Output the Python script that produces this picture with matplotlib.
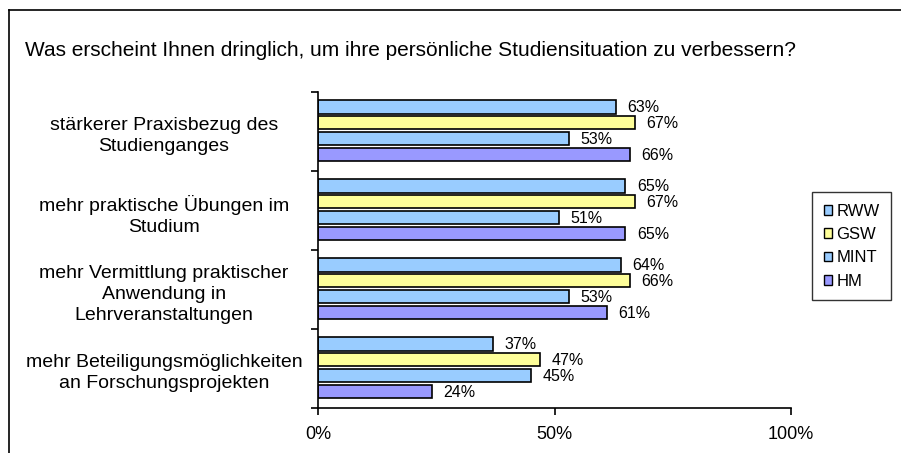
import matplotlib
matplotlib.use('Agg')
from matplotlib import pyplot as plt
from matplotlib.patches import Patch
from matplotlib.transforms import blended_transform_factory
import numpy as np

plt.rcParams['font.family'] = ['Liberation Sans', 'DejaVu Sans']

################################ data ################################
title = 'Was erscheint Ihnen dringlich, um ihre persönliche Studiensituation zu verbessern?'
categories = ['stärkerer Praxisbezug des\nStudienganges',
              'mehr praktische Übungen im\nStudium',
              'mehr Vermittlung praktischer\nAnwendung in\nLehrveranstaltungen',
              'mehr Beteiligungsmöglichkeiten\nan Forschungsprojekten']
series = ['RWW', 'GSW', 'MINT', 'HM']
rww = [63, 65, 64, 37]
gsw = [67, 67, 66, 47]
mint = [53, 51, 53, 45]
hm = [66, 65, 61, 24]
colors = ['#99CCFF', '#FFFF99', '#99CCFF', '#9999FF']
xticks = [0, 50, 100]
xticklabels = ['0%', '50%', '100%']
################################ data ################################

fig = plt.figure(figsize=(9.01, 4.53), dpi=100)
ax = fig.add_axes([318/901, 45/453, 473/901, 316/453])

values = [rww, gsw, mint, hm]
idx = np.arange(len(categories))
for j in range(len(series)):
    ypos = idx + 0.19 + 0.2 * j
    ax.barh(ypos, values[j], height=0.165, color=colors[j], edgecolor='black', linewidth=1.2)
    for y, v in zip(ypos, values[j]):
        ax.text(v + 2.4, y + 0.01, '%d%%' % v, va='center', ha='left', fontsize=11.5)

ax.set_xlim(0, 100)
ax.set_ylim(len(categories), 0)
ax.set_xticks(xticks)
ax.set_xticklabels(xticklabels, fontsize=13)
ax.set_yticks(np.arange(len(categories) + 1))
ax.set_yticklabels([])
ax.tick_params(axis='y', length=5, width=1.2, direction='out')
ax.tick_params(axis='x', length=5, width=1.2, direction='out', pad=8)
ax.spines['top'].set_visible(False)
ax.spines['right'].set_visible(False)
ax.spines['left'].set_linewidth(1.2)
ax.spines['bottom'].set_linewidth(1.2)

trans = blended_transform_factory(fig.transFigure, ax.transData)
for i, c in enumerate(categories):
    ax.text(164/901, i + 0.56, c, transform=trans, ha='center', va='center',
            fontsize=14, linespacing=1.3)

fig.text(25/901, 1 - 50/453, title, ha='left', va='center', fontsize=15)

handles = [Patch(facecolor=colors[j], edgecolor='black', label=series[j]) for j in range(len(series))]
leg = fig.legend(handles=handles, loc='upper left', bbox_to_anchor=(812/901, 1 - 192/453),
                 frameon=True, fancybox=False, edgecolor='black', fontsize=12,
                 handlelength=0.5, handleheight=0.5, handletextpad=0.25, labelspacing=0.5,
                 borderpad=0.7, borderaxespad=0)
leg.get_frame().set_linewidth(1.0)

# frame around the chart area
fig.add_artist(plt.Line2D([9/901, 9/901], [0, 1 - 10/453], color='black', linewidth=1.2))
fig.add_artist(plt.Line2D([9/901, 1], [1 - 10/453, 1 - 10/453], color='black', linewidth=1.2))

plt.savefig('out.png', dpi=100)
